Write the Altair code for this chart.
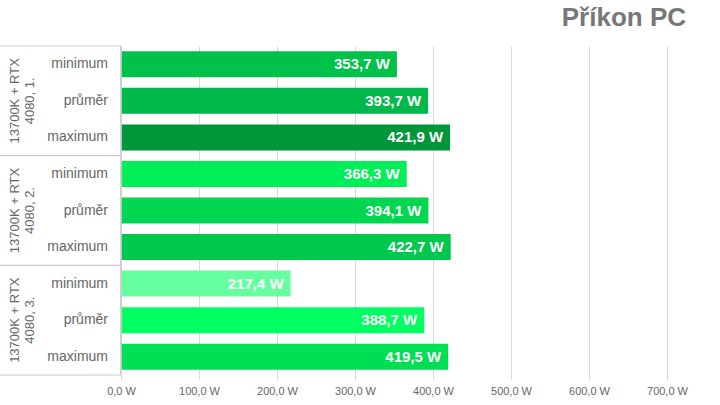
import altair as alt
import pandas as pd

groups = ["13700K + RTX\n4080, 1.", "13700K + RTX\n4080, 2.", "13700K + RTX\n4080, 3."]
subs = ["minimum", "průměr", "maximum"]
values = [353.7, 393.7, 421.9, 366.3, 394.1, 422.7, 217.4, 388.7, 419.5]
colors = ["#00C14A", "#00B94A", "#00963A", "#00EE58", "#00D650", "#00C84C", "#66FFA0", "#00FF60", "#00DE54"]

rows = []
i = 0
for gi, g in enumerate(groups):
    for s in subs:
        rows.append({
            "key": f"{gi}|{s}",
            "group": g,
            "sub": s,
            "value": values[i],
            "color": colors[i],
            "label": f"{values[i]:.1f}".replace(".", ",") + " W",
            "first": s == subs[0],
            "mid": s == subs[1],
            "last": s == subs[-1],
        })
        i += 1
df = pd.DataFrame(rows)
order = list(df["key"])

LEFT, TOP = 121, 46
W, H = 546, 329
ysc = alt.Scale(domain=order, paddingInner=0, paddingOuter=0)
xsc = alt.Scale(domain=[0, 700], nice=False)

base = alt.Chart(df)

bars = base.mark_bar(size=26).encode(
    y=alt.Y("key:N", scale=ysc, sort=order, axis=None),
    x=alt.X("value:Q", scale=xsc, axis=alt.Axis(
        values=[0, 100, 200, 300, 400, 500, 600, 700],
        labelExpr="replace(format(datum.value, '.1f'), '.', ',') + ' W'",
        grid=True, gridColor="#d9d9d9", domain=False, ticks=True, tickSize=5,
        tickColor="#d9d9d9", labelColor="#666666", labelFontSize=11,
        labelFont="Liberation Sans", labelPadding=5, labelFlush=False, title=None)),
    color=alt.Color("color:N", scale=None),
)

texts = base.mark_text(align="right", baseline="middle", dx=-7, fontSize=15,
                       fontWeight="bold", color="white", font="Liberation Sans").encode(
    y=alt.Y("key:N", scale=ysc, sort=order),
    x=alt.X("value:Q", scale=xsc),
    text="label:N",
)

sublabels = base.mark_text(align="right", baseline="middle", fontSize=14,
                           color="#666666", font="Liberation Sans").encode(
    y=alt.Y("key:N", scale=ysc, sort=order),
    x=alt.value(-13),
    text="sub:N",
)

grouplabels = base.transform_filter("datum.mid").mark_text(
    align="center", baseline="middle", angle=270, fontSize=13, lineBreak="\n",
    color="#666666", font="Liberation Sans", lineHeight=15).encode(
    y=alt.Y("key:N", scale=ysc, sort=order),
    x=alt.value(-106),
    text="group:N",
)

sep_top = base.transform_filter("datum.first").mark_rule(color="#cccccc").encode(
    y=alt.Y("key:N", scale=ysc, sort=order, bandPosition=0),
    x=alt.value(-121), x2=alt.value(0),
)
sep_bot = base.transform_filter("datum.last").mark_rule(color="#cccccc").encode(
    y=alt.Y("key:N", scale=ysc, sort=order, bandPosition=1),
    x=alt.value(-121), x2=alt.value(0),
)
vline = base.transform_filter("datum.first").mark_rule(color="#cccccc").encode(
    x=alt.value(0), y=alt.value(0), y2=alt.value(H),
)

chart = alt.layer(bars, texts, sublabels, grouplabels, sep_top, sep_bot, vline).properties(
    width=W, height=H,
    title=alt.TitleParams("Příkon PC", anchor="end", frame="group", dx=19, offset=15,
                          fontSize=26, fontWeight="bold", color="#777777",
                          font="Liberation Sans"),
    autosize=alt.AutoSizeParams(type="none"),
    padding={"left": LEFT, "top": TOP, "right": 720 - LEFT - W, "bottom": 405 - TOP - H},
).configure_view(stroke=None)

chart.save("out.html", embed_options={"renderer": "svg", "actions": False})
